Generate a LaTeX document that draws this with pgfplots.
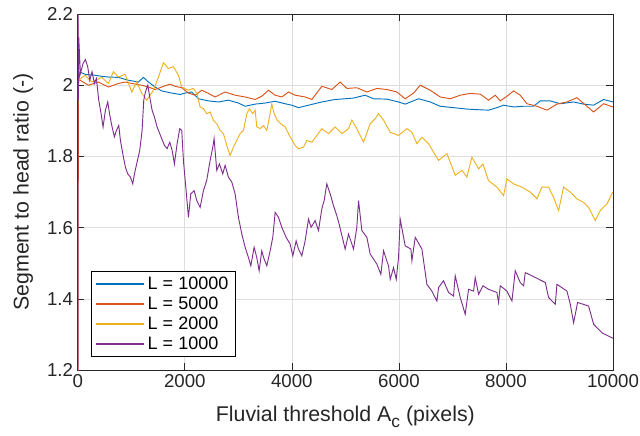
\documentclass[border=0pt]{standalone}
\usepackage{fontspec}
\setmainfont{Liberation Sans}
\usepackage{pgfplots}
\pgfplotsset{compat=1.18}
\definecolor{mblue}{rgb}{0,0.447,0.741}
\definecolor{mred}{rgb}{0.85,0.325,0.098}
\definecolor{myellow}{rgb}{0.929,0.694,0.125}
\definecolor{mpurple}{rgb}{0.494,0.184,0.556}
\definecolor{axgray}{rgb}{0.15,0.15,0.15}
\begin{document}
\begin{tikzpicture}
\useasboundingbox (-58.3pt,-48.75pt) rectangle (421.5pt,277.5pt);
\begin{axis}[
    at={(0,0)}, anchor=south west,
    scale only axis, width=401.25pt, height=267pt,
    xmin=0, xmax=10000, ymin=1.2, ymax=2.2,
    xtick={0,2000,4000,6000,8000,10000},
    ytick={1.2,1.4,1.6,1.8,2,2.2},
    scaled ticks=false,
    /pgf/number format/assume math mode=true,
    xticklabel style={/pgf/number format/.cd, fixed, 1000 sep={}},
    yticklabel style={/pgf/number format/.cd, fixed, precision=1},
    tick label style={font=\fontsize{14}{17}\selectfont, text=axgray},
    label style={font=\fontsize{16}{19}\selectfont, text=axgray},
    grid=major,
    grid style={line width=0.5pt, draw=black!13},
    tick align=inside, tick pos=both,
    major tick length=5pt,
    tick style={axgray, line width=0.5pt},
    axis line style={axgray, line width=0.6pt},
    xlabel={Fluvial threshold A\raisebox{-0.5ex}{\fontsize{13}{13}\selectfont c} (pixels)},
    ylabel={Segment to head ratio (-)},
    xlabel style={at={(axis description cs:0.5,-0.1453)}, anchor=base},
    ylabel style={at={(axis description cs:-0.1022,0.5)}, anchor=center},
    legend style={at={(axis description cs:0,0)}, anchor=south west,
        xshift=10pt, yshift=10pt, draw=black, line width=0.5pt,
        font=\fontsize{13.5}{16}\selectfont, cells={anchor=west}},
    legend image code/.code={\draw[#1, line width=1.2pt] (0pt,0pt) -- (36pt,0pt);},
    every axis plot/.append style={line width=0.7pt},
]
\addplot[mblue] coordinates {
(0,1.985) (40,2.037) (150,2.030) (323,2.028) (450,2.025) (573,2.023) (759,2.022)
(946,2.014) (1133,2.009) (1227,2.022) (1320,2.009) (1445,1.995) (1569,1.984)
(1756,1.978) (1912,1.974) (2005,1.978) (2130,1.981) (2255,1.962) (2442,1.956)
(2628,1.953) (2815,1.958) (3002,1.950) (3127,1.941) (3314,1.947) (3501,1.950)
(3688,1.955) (3874,1.948) (3999,1.944) (4124,1.937) (4311,1.944) (4560,1.953)
(4809,1.960) (4996,1.962) (5152,1.964) (5370,1.972) (5526,1.962) (5775,1.961)
(5993,1.953) (6118,1.947) (6367,1.962) (6585,1.953) (6772,1.941) (7021,1.937)
(7270,1.933) (7520,1.931) (7675,1.930) (7831,1.937) (7956,1.944) (8143,1.939)
(8330,1.941) (8516,1.941) (8641,1.956) (8828,1.956) (9015,1.948) (9264,1.953)
(9451,1.947) (9638,1.944) (9825,1.960) (10000,1.953)
};
\addlegendentry{L = 10000}
\addplot[mred] coordinates {
(0,2.25) (5,1.15) (12,2.02) (43,2.014) (199,2.000) (386,2.009) (573,1.995)
(759,2.005) (884,2.009) (1009,2.005) (1196,2.000) (1320,1.995) (1445,1.988)
(1569,1.995) (1725,2.003) (1819,1.997) (1943,1.993) (2068,1.978) (2193,1.972)
(2317,1.986) (2442,1.977) (2567,1.967) (2753,1.981) (2940,1.972) (3127,1.967)
(3314,1.960) (3438,1.969) (3563,1.986) (3688,1.972) (3813,1.967) (3937,1.981)
(4062,1.972) (4249,1.967) (4374,1.960) (4560,1.997) (4747,1.988) (4903,2.009)
(5028,1.991) (5214,1.993) (5401,1.981) (5588,1.991) (5775,1.988) (5962,1.981)
(6118,1.962) (6274,1.978) (6398,2.000) (6585,1.986) (6772,1.967) (6960,1.962)
(7146,1.972) (7333,1.977) (7520,1.975) (7675,1.958) (7800,1.972) (7894,1.956)
(8018,1.969) (8143,1.984) (8267,1.972) (8392,1.948) (8579,1.941) (8766,1.930)
(8953,1.947) (9140,1.953) (9326,1.965) (9513,1.941) (9638,1.925) (9825,1.948)
(10000,1.939)
};
\addlegendentry{L = 5000}
\addplot[myellow] coordinates {
(0,1.96) (12,2.014) (136,2.028) (261,2.009) (448,2.022) (573,2.005) (666,2.038)
(759,2.023) (884,2.031) (1009,1.981) (1102,2.009) (1196,1.977) (1289,1.958)
(1414,1.986) (1507,2.023) (1600,2.063) (1694,2.047) (1787,2.052) (1881,2.028)
(1943,1.995) (2068,1.986) (2099,1.988) (2161,1.991) (2224,1.977) (2286,1.939)
(2348,1.934) (2411,1.920) (2473,1.925) (2535,1.901) (2597,1.892) (2660,1.873)
(2722,1.864) (2784,1.831) (2846,1.803) (2909,1.826) (2971,1.845) (3033,1.864)
(3096,1.873) (3158,1.920) (3208,1.934) (3270,1.920) (3314,1.930) (3345,1.883)
(3407,1.878) (3470,1.887) (3532,1.873) (3582,1.911) (3625,1.947) (3669,1.920)
(3731,1.901) (3793,1.892) (3875,1.883) (3968,1.855) (4062,1.831) (4124,1.822)
(4217,1.826) (4279,1.845) (4374,1.840)
(4560,1.878) (4685,1.864) (4809,1.883) (4934,1.864) (5059,1.878) (5121,1.902)
(5214,1.878) (5339,1.840) (5463,1.892) (5557,1.906) (5620,1.920) (5713,1.902)
(5838,1.868) (5993,1.859) (6149,1.878) (6243,1.868) (6336,1.836) (6430,1.854)
(6554,1.836) (6648,1.812) (6741,1.789) (6897,1.808) (7052,1.747) (7177,1.761)
(7270,1.742) (7364,1.798) (7489,1.765) (7570,1.779) (7675,1.732) (7831,1.714)
(7956,1.690) (8018,1.737) (8143,1.723) (8298,1.714) (8454,1.700) (8579,1.681)
(8672,1.714) (8797,1.714) (8890,1.685) (8984,1.648) (9077,1.714) (9202,1.700)
(9326,1.681) (9451,1.671) (9544,1.657) (9669,1.620) (9762,1.648) (9887,1.667)
(9980,1.695) (10000,1.700)
};
\addlegendentry{L = 2000}
\addplot[mpurple] coordinates {
(0,1.15) (6,2.25) (12,1.96) (18,2.136) (49,2.033) (99,2.061) (143,2.072)
(186,2.052) (224,2.014) (267,2.038) (311,2.005) (348,2.019) (392,1.958)
(436,1.920) (473,1.883) (517,1.930) (560,1.953) (598,1.916) (641,1.883)
(685,1.855) (722,1.873) (766,1.887) (797,1.845) (847,1.803) (890,1.770)
(934,1.751) (984,1.742) (1027,1.723) (1059,1.751) (1108,1.784) (1158,1.817)
(1202,1.873) (1233,1.958) (1264,1.981) (1308,2.000) (1345,1.967) (1389,1.930)
(1432,1.911) (1482,1.883) (1532,1.864) (1582,1.845) (1619,1.831) (1669,1.822)
(1719,1.840) (1763,1.817) (1806,1.779) (1856,1.836) (1906,1.878) (1943,1.873)
(1974,1.789) (2024,1.704) (2068,1.629) (2111,1.695) (2174,1.704) (2224,1.676)
(2286,1.657) (2348,1.704) (2410,1.733) (2473,1.789) (2523,1.826) (2547,1.850)
(2597,1.761) (2647,1.779) (2709,1.751) (2753,1.775) (2815,1.742) (2878,1.728)
(2940,1.695) (3002,1.629) (3065,1.582) (3127,1.545) (3189,1.516) (3233,1.493)
(3295,1.545) (3345,1.516) (3389,1.479) (3438,1.535) (3482,1.512) (3532,1.493)
(3594,1.535) (3644,1.573) (3688,1.643) (3750,1.629) (3812,1.601) (3893,1.573)
(3968,1.554) (4018,1.521) (4080,1.563) (4124,1.540) (4186,1.521) (4248,1.563)
(4311,1.624) (4360,1.601) (4435,1.620) (4498,1.592) (4560,1.653) (4603,1.676)
(4653,1.723) (4716,1.695) (4778,1.662) (4840,1.634) (4890,1.606) (4996,1.540)
(5059,1.582) (5152,1.540) (5214,1.601) (5246,1.676) (5308,1.592)
(5401,1.573) (5464,1.526) (5588,1.498) (5663,1.469) (5713,1.535) (5806,1.493)
(5838,1.455) (5900,1.488) (5950,1.455) (5993,1.516) (6024,1.624) (6118,1.549)
(6224,1.540) (6243,1.507) (6305,1.573) (6430,1.540) (6523,1.441) (6616,1.422)
(6710,1.394) (6741,1.432) (6834,1.451) (6928,1.418) (7021,1.408) (7052,1.465)
(7146,1.404) (7239,1.357) (7302,1.427) (7395,1.422) (7426,1.460) (7489,1.413)
(7570,1.437) (7675,1.427) (7831,1.418) (7862,1.390) (7894,1.437) (8018,1.422)
(8112,1.394) (8174,1.479) (8267,1.446) (8330,1.437) (8361,1.474) (8486,1.465)
(8735,1.446) (8797,1.404) (8922,1.385) (8953,1.441) (9140,1.422) (9202,1.385)
(9264,1.333) (9339,1.390) (9544,1.380) (9638,1.329) (9793,1.305) (9980,1.291)
(10000,1.290)
};
\addlegendentry{L = 1000}
\end{axis}
\end{tikzpicture}
\end{document}
